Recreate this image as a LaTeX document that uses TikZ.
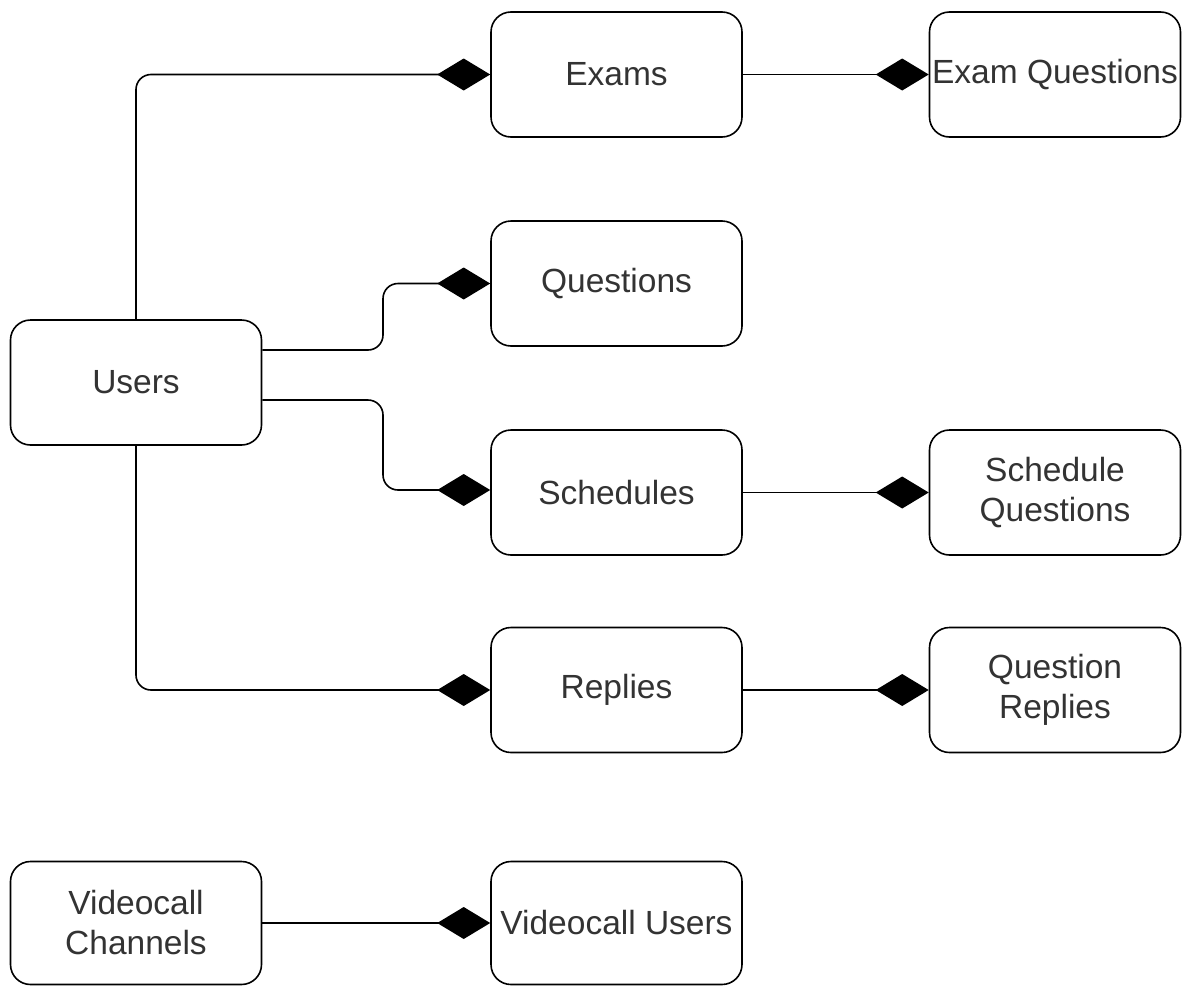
\documentclass[tikz,border=0pt]{standalone}
\usepackage{fontspec}
\setmainfont{Liberation Sans}
\usetikzlibrary{arrows.meta}
\definecolor{txt}{HTML}{333333}
\tikzset{
  box/.style={draw=black, line width=1.6pt, rounded corners=20pt, fill=white,
    minimum width=251pt, minimum height=125pt, inner sep=0pt, align=center,
    text=txt, font=\fontsize{33.5pt}{40pt}\selectfont},
  conn/.style={draw=black, line width=1.6pt, rounded corners=15pt,
    -{Diamond[length=53pt,width=32pt]}},
}
\begin{document}
\begin{tikzpicture}[x=1pt,y=-1pt]
\useasboundingbox (0,0) rectangle (1182,985);
\node[box] (users) at (136,382.5) {Users};
\node[box] (exams) at (616.5,74.5) {Exams};
\node[box] (examq) at (1055,74.5) {Exam Questions};
\node[box] (questions) at (616.5,283.5) {Questions};
\node[box] (schedules) at (616.5,492.5) {Schedules};
\node[box] (schedq) at (1055,492.5) {Schedule\\Questions};
\node[box] (replies) at (616.5,690) {Replies};
\node[box] (qreplies) at (1055,690) {Question\\Replies};
\node[box, minimum height=123pt] (vchan) at (136,923) {Videocall\\Channels};
\node[box, minimum height=123pt] (vusers) at (616.5,923) {Videocall Users};

\coordinate (bendA) at (383,0);
\draw[conn] (users.north) |- (exams.west);
\draw[conn] ([yshift=32.5pt]users.east) -- ([yshift=32.5pt]users.east -| bendA) |- (questions.west);
\draw[conn] ([yshift=-17.5pt]users.east) -- ([yshift=-17.5pt]users.east -| bendA) |- ([yshift=2.5pt]schedules.west);
\draw[conn] (users.south) |- (replies.west);
\draw[conn] (exams.east) -- (examq.west);
\draw[conn] (schedules.east) -- (schedq.west);
\draw[conn] (replies.east) -- (qreplies.west);
\draw[conn] (vchan.east) -- (vusers.west);
\end{tikzpicture}
\end{document}
